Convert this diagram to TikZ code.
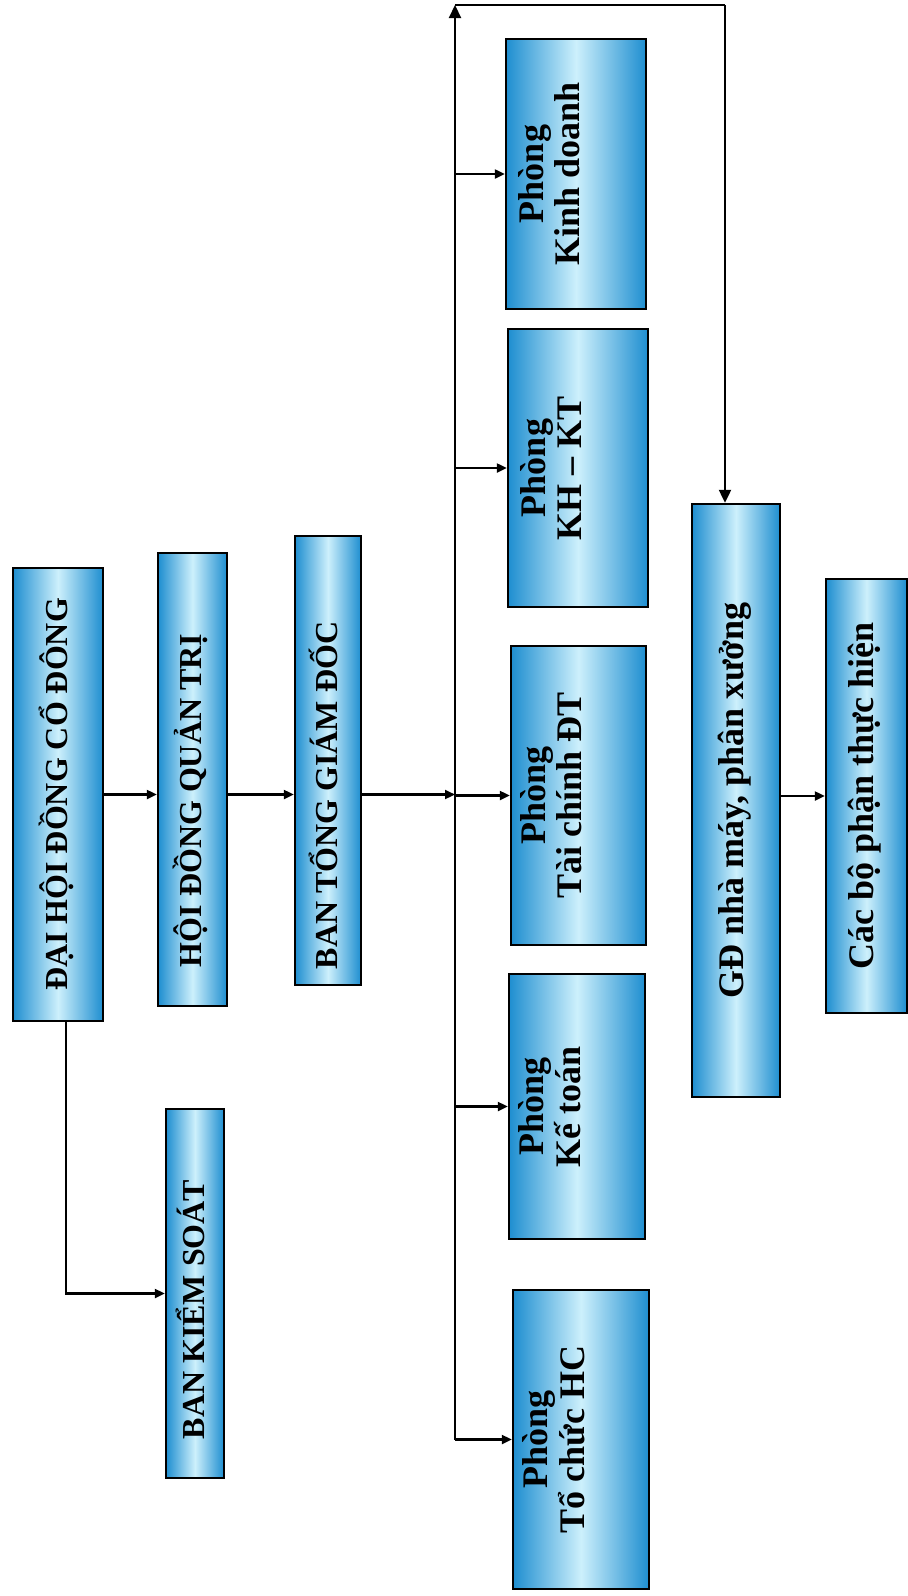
\documentclass[tikz,border=0pt]{standalone}
\usepackage{fontspec}
\setmainfont{Liberation Serif}
\usetikzlibrary{arrows.meta}
\definecolor{edgeblue}{RGB}{30,142,208}
\definecolor{glowblue}{RGB}{205,240,252}
% rotated text, optional blank after it (pushes the text down the box)
\newcommand{\vtext}[2][0pt]{\rotatebox{90}{\begin{tabular}{@{}c@{}}#2\end{tabular}\hspace*{#1}}}
\tikzset{panel/.style={draw=black,line width=1.2pt,left color=edgeblue,right color=edgeblue,middle color=glowblue,inner sep=0pt,font=\bfseries\fontsize{18}{18}\selectfont},
  caps/.style={font=\bfseries\fontsize{16}{16}\selectfont},
  link/.style={line width=1.1pt,-{Triangle[length=5pt,width=4.5pt]}},
  bigtip/.style={-{Triangle[length=6.5pt,width=6pt]}}}

\begin{document}
\begin{tikzpicture}[x=0.5pt,y=-0.5pt]
  \useasboundingbox (0,0) rectangle (908,1596);
  % left column
  \node[panel,caps,minimum width=45pt,minimum height=226.5pt] (dhdcd) at (58,794.5) {\vtext{ĐẠI HỘI ĐỒNG CỔ ĐÔNG}};
  \node[panel,caps,minimum width=34.5pt,minimum height=226.5pt] (hdqt) at (192.5,779.5) {\vtext[21pt]{HỘI ĐỒNG QUẢN TRỊ}};
  \node[panel,caps,minimum width=33pt,minimum height=224.5pt] (btgd) at (328,760.5) {\vtext[35pt]{BAN TỔNG GIÁM ĐỐC}};
  \node[panel,caps,minimum width=29pt,minimum height=184.5pt] (bks) at (195,1293.5) {\vtext[16pt]{BAN KIỂM SOÁT}};
  % departments
  \node[panel,minimum width=70pt,minimum height=135pt] (kd) at (576,174) {\vtext{Phòng\\Kinh doanh\\[22pt]}};
  \node[panel,minimum width=70pt,minimum height=139pt] (khkt) at (578,468) {\vtext{Phòng\\KH -- KT\\[22pt]}};
  \node[panel,minimum width=67.5pt,minimum height=149.5pt] (tc) at (578.5,795.5) {\vtext{Phòng\\Tài chính ĐT\\[22pt]}};
  \node[panel,minimum width=68pt,minimum height=132.5pt] (kt) at (577,1106.5) {\vtext{Phòng\\Kế toán\\[22pt]}};
  \node[panel,minimum width=68pt,minimum height=149.5pt] (tchc) at (581,1439.5) {\vtext{Phòng\\Tổ chức HC\\[22pt]}};
  % factory
  \node[panel,minimum width=44pt,minimum height=296.5pt] (gd) at (736,800.5) {\vtext{GĐ nhà máy, phân xưởng}};
  \node[panel,minimum width=40.5pt,minimum height=217pt] (cbp) at (866.5,796) {\vtext{Các bộ phận thực hiện}};

  \coordinate (busTop) at (455,5);
  \coordinate (topR) at (725,5);
  \draw[link] (dhdcd.east) -- (dhdcd.east -| hdqt.west);
  \draw[link] (hdqt.east |- dhdcd.east) -- (btgd.west |- dhdcd.east);
  \draw[link] (btgd.east |- dhdcd.east) -- (busTop |- dhdcd.east);
  \draw[link,bigtip] (busTop |- tchc.west) -- (busTop);
  \foreach \p in {kd,khkt,tc,kt,tchc}
    \draw[link] (busTop |- \p.west) -- (\p.west);
  \draw[line width=1.1pt] (busTop) -- (topR);
  \draw[link,bigtip] (topR) -- (topR |- gd.north);
  \draw[link] ([xshift=4pt]dhdcd.south) |- (bks.west);
  \draw[link] (gd.east |- cbp.west) -- (cbp.west);
\end{tikzpicture}
\end{document}
